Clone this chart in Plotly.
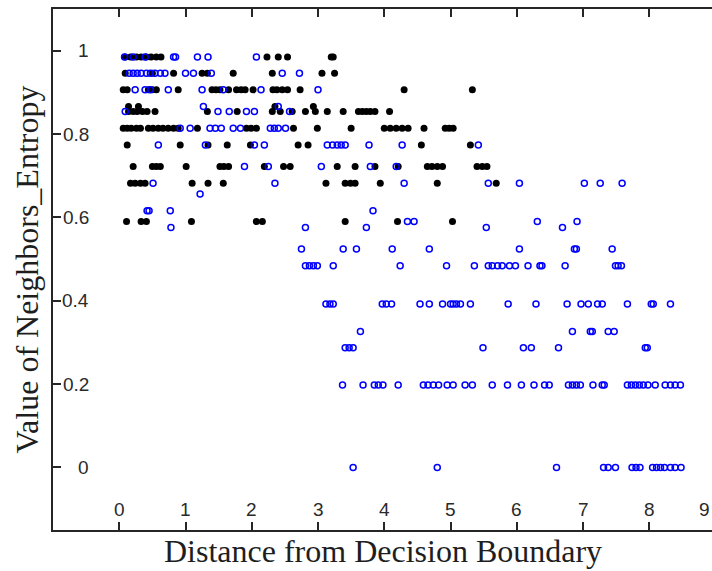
import plotly.graph_objects as go

# ---- data ----
black_levels = [0.985, 0.946, 0.906, 0.866, 0.854, 0.814, 0.774, 0.722, 0.682, 0.590]
black_x = [
    [0.09, 0.17, 0.26, 0.33, 0.41, 0.48, 0.56, 0.63, 2.23, 2.40, 2.54, 3.20, 3.23],
    [0.09, 0.50, 0.82, 1.25, 1.33, 1.72, 2.31, 3.06, 3.25],
    [0.06, 0.12, 0.44, 0.50, 0.56, 0.89, 1.40, 1.46, 1.52, 1.65, 1.77, 1.84, 1.90, 2.02,
     2.32, 2.38, 2.46, 2.54, 2.73, 4.30, 5.33],
    [0.14, 0.29, 2.35, 2.93],
    [0.14, 0.21, 0.27, 0.35, 0.42, 0.54, 1.33, 1.78, 2.31, 2.43, 2.61, 2.81, 2.96, 3.14,
     3.38, 3.61, 3.67, 3.73, 3.79, 3.86, 4.08],
    [0.06, 0.12, 0.18, 0.26, 0.32, 0.44, 0.51, 0.59, 0.66, 0.74, 0.82, 0.89, 1.18, 1.92,
     1.99, 2.07, 2.63, 2.99, 3.50, 4.00, 4.09, 4.18, 4.27, 4.36, 4.60, 4.92, 4.98, 5.04],
    [0.12, 0.92, 1.34, 1.63, 1.98, 2.70, 2.85, 4.56, 5.30],
    [0.21, 0.50, 0.56, 0.62, 1.01, 1.52, 1.58, 1.65, 2.19, 2.48, 2.58, 3.29, 3.56, 3.86,
     4.21, 4.65, 4.72, 4.80, 4.88, 5.40, 5.48, 5.55],
    [0.17, 0.24, 0.32, 0.39, 1.10, 1.34, 1.57, 3.12, 3.41, 3.49, 3.56, 3.94, 4.80, 5.69],
    [0.11, 0.33, 0.41, 1.09, 2.07, 2.16, 3.41, 4.20, 5.03],
]

blue_levels = [0.985, 0.946, 0.906, 0.866, 0.854, 0.814, 0.774, 0.722, 0.682, 0.656,
               0.616, 0.590, 0.576, 0.524, 0.484, 0.392, 0.326, 0.287, 0.198, 0.0]
blue_x = [
    [0.08, 0.21, 0.39, 0.82, 0.85, 1.18, 1.34, 2.07],
    [0.15, 0.21, 0.27, 0.33, 0.41, 0.47, 0.54, 0.62, 0.69, 1.00, 1.12, 1.39, 2.46, 2.72],
    [0.24, 0.39, 0.47, 0.74, 1.25, 1.57, 2.14, 3.00],
    [1.27, 2.40],
    [0.09, 1.49, 1.66, 1.92, 2.04, 2.57],
    [0.92, 1.07, 1.37, 1.45, 1.54, 1.72, 1.83, 2.28, 2.34, 2.40, 2.51],
    [0.59, 1.30, 2.04, 2.19, 3.14, 3.22, 3.29, 3.35, 3.41, 3.77, 4.27, 5.42],
    [1.89, 2.25, 3.05, 3.79, 4.18],
    [0.51, 2.35, 4.30, 5.57, 6.04, 7.02, 7.26, 7.59],
    [1.22],
    [0.42, 0.45, 0.77, 3.83],
    [4.35, 4.45, 6.31, 6.91],
    [0.78, 2.81, 3.73, 5.54, 6.69],
    [2.75, 3.38, 3.58, 4.12, 4.68, 6.04, 6.87, 6.90, 7.44],
    [2.81, 2.87, 2.93, 2.99, 3.23, 4.24, 4.94, 5.36, 5.57, 5.63, 5.71, 5.78, 5.89, 5.98,
     6.17, 6.35, 6.38, 6.73, 7.49, 7.53, 7.58],
    [3.12, 3.18, 3.23, 3.97, 4.03, 4.11, 4.54, 4.68, 4.88, 5.00, 5.04, 5.09, 5.15, 5.30,
     5.87, 6.29, 6.76, 6.97, 7.08, 7.22, 7.29, 7.67, 8.03, 8.06, 8.32],
    [3.64, 6.84, 7.11, 7.14, 7.38, 7.47],
    [3.41, 3.47, 3.53, 5.49, 6.10, 6.22, 6.63, 7.94, 7.97],
    [3.37, 3.68, 3.85, 3.91, 3.98, 4.21, 4.59, 4.66, 4.74, 4.82, 4.95, 5.04, 5.22, 5.33,
     5.63, 5.86, 6.07, 6.26, 6.42, 6.49, 6.78, 6.84, 6.90, 6.96, 7.15, 7.29, 7.32, 7.67,
     7.73, 7.79, 7.85, 7.91, 7.98, 8.09, 8.24, 8.32, 8.39, 8.47],
    [3.53, 4.80, 6.60, 7.31, 7.38, 7.49, 7.74, 7.80, 7.86, 8.05, 8.11, 8.17, 8.23, 8.32,
     8.39, 8.48],
]

x_tick_vals = [0, 1, 2, 3, 4, 5, 6, 7, 8, 9]
x_tick_text = ["0", "1", "2", "3", "4", "5", "6", "7", "8", "9"]
y_tick_vals = [0, 0.2, 0.4, 0.6, 0.8, 1.0]
y_tick_text = ["0", "0.2", "0.4", "0.6", "0.8", "1"]

x_title = "Distance from Decision Boundary"
y_title = "Value of Neighbors_Entropy"

# ---- flatten ----
def flatten(levels, xs_by_level):
    xs, ys = [], []
    for lvl, xs_l in zip(levels, xs_by_level):
        xs.extend(xs_l)
        ys.extend([lvl] * len(xs_l))
    return xs, ys

bx, by = flatten(black_levels, black_x)
ux, uy = flatten(blue_levels, blue_x)

fig = go.Figure()
fig.add_trace(go.Scatter(x=bx, y=by, mode="markers",
                         marker=dict(symbol="circle", size=7, color="black",
                                     line=dict(width=0)),
                         cliponaxis=True))
fig.add_trace(go.Scatter(x=ux, y=uy, mode="markers",
                         marker=dict(symbol="circle-open", size=6, color="#0000ff",
                                     line=dict(width=1.5, color="#0000ff")),
                         cliponaxis=True))

axis_col = "#262626"
x_range = [-1, 8.947]
y_range = [-0.15, 1.1]

fig.update_layout(
    width=712, height=571,
    margin=dict(l=53, r=0, t=9, b=41, pad=0),
    paper_bgcolor="white", plot_bgcolor="white",
    showlegend=False,
    xaxis=dict(range=x_range, tickvals=x_tick_vals[:-1], ticks="inside", ticklen=8,
               tickwidth=1.5, tickcolor=axis_col, showticklabels=False,
               showline=True, linewidth=2, linecolor=axis_col, mirror="ticks",
               showgrid=False, zeroline=False),
    yaxis=dict(range=y_range, tickvals=y_tick_vals, ticks="inside", ticklen=8,
               tickwidth=1.5, tickcolor=axis_col, showticklabels=False,
               showline=True, linewidth=2, linecolor=axis_col, mirror=False,
               showgrid=False, zeroline=False),
    yaxis2=dict(range=y_range, tickvals=y_tick_vals, ticks="inside", ticklen=8,
                tickwidth=1.5, tickcolor=axis_col, showticklabels=False,
                showline=False, overlaying="y", side="right",
                showgrid=False, zeroline=False),
)

tick_font = dict(family="Liberation Sans, Arial, sans-serif", size=19, color="#2a2a2a")
annotations = []
for v, t in zip(x_tick_vals, x_tick_text):
    frac = (v - x_range[0]) / (x_range[1] - x_range[0])
    if frac <= 1:
        annotations.append(dict(x=v, y=-0.1015, xref="x", yref="y", text=t,
                                showarrow=False, xanchor="center", yanchor="middle",
                                font=tick_font))
    else:
        # label whose tick lies just past the right border: keep it at the edge
        annotations.append(dict(x=1, y=-0.1015, xref="x domain", yref="y", text=t,
                                showarrow=False, xanchor="right", yanchor="middle",
                                font=tick_font))
for v, t in zip(y_tick_vals, y_tick_text):
    annotations.append(dict(x=-0.42, y=v, xref="x", yref="y", text=t,
                            showarrow=False, xanchor="right", yanchor="middle",
                            font=tick_font))

title_font = dict(family="Liberation Serif, Times New Roman, serif", size=32, color="#1e1e1e")
annotations.append(dict(x=0.5, y=-0.041, xref="paper", yref="paper", text=x_title,
                        showarrow=False, xanchor="center", yanchor="middle",
                        font=title_font))
annotations.append(dict(x=-0.0395, y=0.5, xref="paper", yref="paper", text=y_title,
                        showarrow=False, xanchor="center", yanchor="middle",
                        textangle=-90, font=title_font))
fig.update_layout(annotations=annotations)

fig.write_html("out.html")
